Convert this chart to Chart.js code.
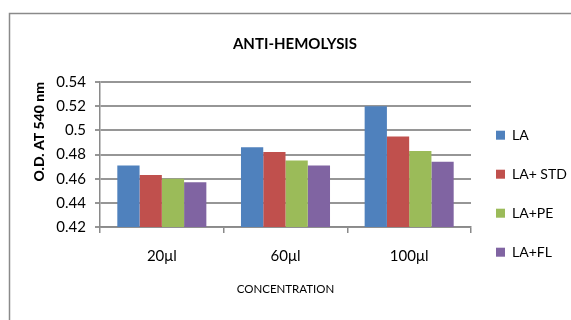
<!DOCTYPE html>
<html>
<head>
<meta charset="utf-8">
<script src="https://cdn.jsdelivr.net/npm/chart.js@4"></script>
<style>
  html, body { margin: 0; padding: 0; background: #ffffff; }
  #wrap { position: relative; width: 571px; height: 320px; }
</style>
</head>
<body>
<div id="wrap"><canvas id="chart" width="571" height="320"></canvas></div>
<script>
// Absorbance of the anti-hemolysis assay at three concentrations
const categories = ['20μl', '60μl', '100μl'];
const seriesNames = ['LA', 'LA+ STD', 'LA+PE', 'LA+FL'];
const la    = [0.471, 0.486, 0.520];
const laStd = [0.463, 0.482, 0.495];
const laPe  = [0.460, 0.475, 0.483];
const laFl  = [0.457, 0.471, 0.474];
const yTicks = [0.42, 0.44, 0.46, 0.48, 0.5, 0.52, 0.54];
const yTickLabels = ['0.42', '0.44', '0.46', '0.48', '0.5', '0.52', '0.54'];

const colors = ['#4F81BD', '#C0504D', '#9BBB59', '#8064A2'];
const FONT = "Lato, 'Liberation Sans', Arial, sans-serif";

// Frame lines along the top and left edge of the chart object
const framePlugin = {
  id: 'frame',
  beforeDraw(chart) {
    const ctx = chart.ctx;
    ctx.save();
    ctx.strokeStyle = '#8a8a8a';
    ctx.lineWidth = 1.5;
    ctx.beginPath();
    ctx.moveTo(9.5, 320);
    ctx.lineTo(9.5, 13.5);
    ctx.lineTo(571, 13.5);
    ctx.stroke();
    ctx.restore();
  }
};

const seriesData = [la, laStd, laPe, laFl];

new Chart(document.getElementById('chart'), {
  type: 'bar',
  data: {
    labels: categories,
    datasets: seriesNames.map((name, i) => ({
      label: name,
      data: seriesData[i],
      backgroundColor: colors[i],
      borderWidth: 0,
      categoryPercentage: 0.72,
      barPercentage: 1.0
    }))
  },
  options: {
    responsive: false,
    animation: false,
    layout: { padding: { left: 19, right: 0, top: 0, bottom: 0 } },
    plugins: {
      title: {
        display: true,
        text: 'ANTI-HEMOLYSIS',
        color: '#000000',
        font: { family: FONT, size: 15, weight: 'bold' },
        padding: { top: 35, bottom: 29 }
      },
      legend: {
        position: 'right',
        align: 'start',
        fullSize: true,
        maxWidth: 100,
        title: {
          display: true,
          text: ' ',
          font: { size: 1 },
          padding: { top: 102, bottom: 0 }
        },
        labels: {
          color: '#000000',
          font: { family: FONT, size: 14 },
          boxWidth: 9,
          boxHeight: 9,
          padding: 25
        }
      },
      tooltip: { enabled: false }
    },
    scales: {
      x: {
        grid: {
          offset: true,
          drawOnChartArea: false,
          drawTicks: true,
          tickLength: 6,
          color: '#8a8a8a',
          lineWidth: 1.5
        },
        border: { display: true, color: '#8a8a8a', width: 1.5 },
        ticks: {
          color: '#000000',
          font: { family: FONT, size: 15 },
          padding: 14
        },
        title: {
          display: true,
          text: 'CONCENTRATION',
          color: '#000000',
          font: { family: FONT, size: 11.5 },
          padding: { top: 0, bottom: 24 }
        },
        afterFit(scale) { scale.height = 93; }
      },
      y: {
        min: 0.42,
        max: 0.54,
        afterBuildTicks(scale) { scale.ticks = yTicks.map(v => ({ value: v })); },
        grid: {
          color: '#969696',
          lineWidth: 2,
          tickLength: 5
        },
        border: { display: true, color: '#8a8a8a', width: 1.5 },
        ticks: {
          color: '#000000',
          font: { family: FONT, size: 15 },
          padding: 9,
          callback(value) {
            const idx = yTicks.findIndex(t => Math.abs(t - value) < 1e-9);
            return idx >= 0 ? yTickLabels[idx] : '';
          }
        },
        title: {
          display: true,
          text: 'O.D. AT 540 nm',
          align: 'end',
          color: '#000000',
          font: { family: FONT, size: 14, weight: 900 },
          padding: { top: 12, bottom: 0 }
        },
        afterFit(scale) { scale.width = 81; }
      }
    }
  },
  plugins: [framePlugin]
});
</script>
</body>
</html>
